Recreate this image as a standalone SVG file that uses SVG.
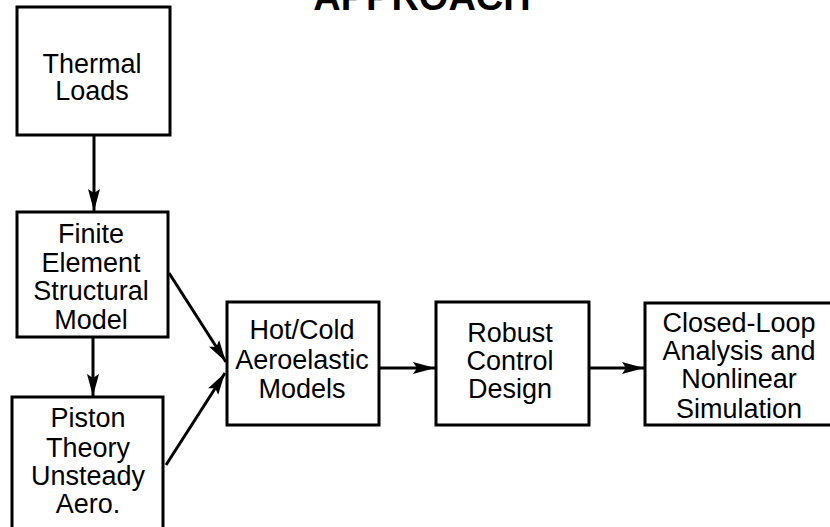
<svg xmlns="http://www.w3.org/2000/svg" width="830" height="527" viewBox="0 0 830 527">
<style>
.box{fill:#fff;stroke:#000;stroke-width:3}
.t{font-family:"Liberation Sans",Arial,sans-serif;font-size:27px;fill:#000;text-anchor:middle}
.title{font-family:"Liberation Sans",Arial,sans-serif;font-size:38px;font-weight:bold;fill:#000;text-anchor:middle}
.c{stroke:#000;stroke-width:3;fill:none;marker-end:url(#ah)}
</style>
<defs>
<marker id="ah" markerUnits="userSpaceOnUse" markerWidth="24" markerHeight="14" refX="22" refY="7" orient="auto">
<path d="M0,1 L22,7 L0,13 L4,7 Z" fill="#000"/>
</marker>
</defs>
<rect width="830" height="527" fill="#fff"/>
<text class="title" x="422" y="10">APPROACH</text>
<g id="connectors">
<line class="c" x1="94" y1="135" x2="94" y2="211"/>
<line class="c" x1="93" y1="337" x2="93" y2="396"/>
<line class="c" x1="169" y1="273" x2="226" y2="362"/>
<line class="c" x1="166" y1="465" x2="225" y2="373"/>
<line class="c" x1="379" y1="368" x2="435" y2="368"/>
<line class="c" x1="589" y1="368" x2="644" y2="368"/>
</g>
<g id="thermal">
<rect class="box" x="17" y="7" width="153" height="128"/>
<text class="t" x="92" y="73">Thermal</text>
<text class="t" x="92" y="100">Loads</text>
</g>
<g id="fem">
<rect class="box" x="17" y="212" width="151" height="125"/>
<text class="t" x="91" y="243">Finite</text>
<text class="t" x="91" y="272">Element</text>
<text class="t" x="91" y="300">Structural</text>
<text class="t" x="91" y="329">Model</text>
</g>
<g id="piston">
<rect class="box" x="12" y="397" width="151" height="145"/>
<text class="t" x="88" y="427">Piston</text>
<text class="t" x="88" y="457">Theory</text>
<text class="t" x="88" y="485">Unsteady</text>
<text class="t" x="88" y="513">Aero.</text>
</g>
<g id="hotcold">
<rect class="box" x="227" y="302" width="152" height="123"/>
<text class="t" x="302" y="339">Hot/Cold</text>
<text class="t" x="302" y="369">Aeroelastic</text>
<text class="t" x="302" y="398">Models</text>
</g>
<g id="robust">
<rect class="box" x="436" y="302" width="153" height="123"/>
<text class="t" x="510" y="342">Robust</text>
<text class="t" x="510" y="370">Control</text>
<text class="t" x="510" y="398">Design</text>
</g>
<g id="closedloop">
<rect class="box" x="645" y="303" width="190" height="122"/>
<text class="t" x="739" y="332">Closed-Loop</text>
<text class="t" x="739" y="360">Analysis and</text>
<text class="t" x="739" y="388">Nonlinear</text>
<text class="t" x="739" y="418">Simulation</text>
</g>
</svg>
